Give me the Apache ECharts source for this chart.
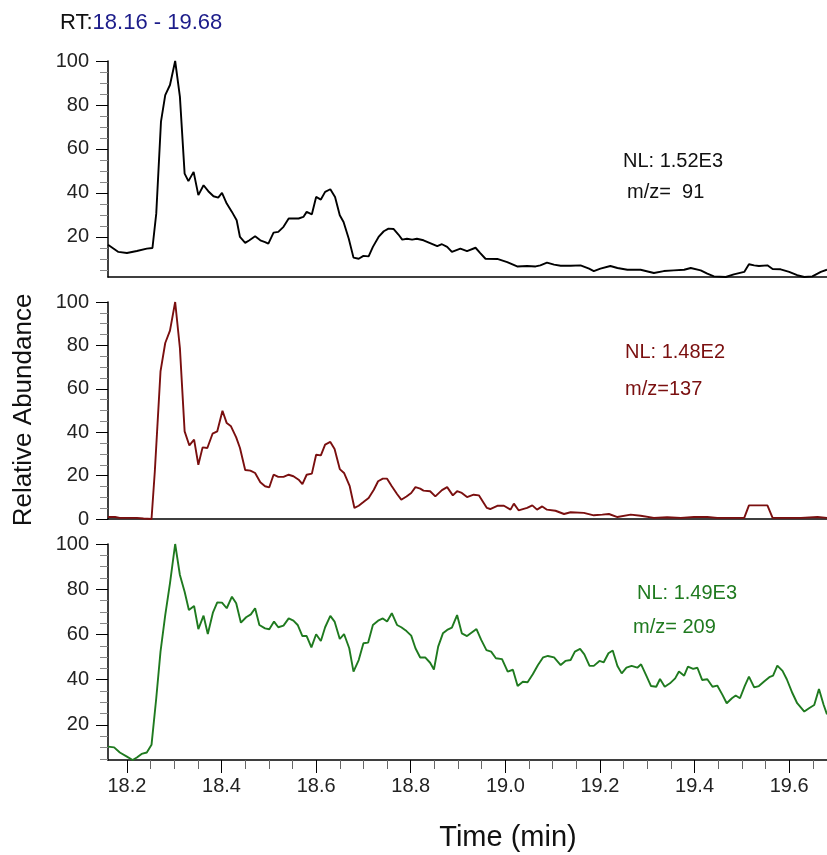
<!DOCTYPE html>
<html>
<head>
<meta charset="utf-8">
<script src="https://cdn.jsdelivr.net/npm/echarts@6/dist/echarts.min.js"></script>
<style>
html,body{margin:0;padding:0;background:#fff;}
#chart{width:827px;height:855px;}
</style>
</head>
<body>
<div id="chart"></div>
<script>
// ---- data (time in min, relative abundance in %) ----
const times91 = [18.160,18.182,18.200,18.221,18.242,18.254,18.262,18.272,18.281,18.291,18.302,18.312,18.322,18.330,18.341,18.351,18.362,18.372,18.383,18.393,18.401,18.411,18.422,18.432,18.439,18.450,18.459,18.471,18.482,18.492,18.499,18.510,18.520,18.531,18.542,18.552,18.563,18.573,18.580,18.591,18.600,18.610,18.619,18.630,18.640,18.650,18.658,18.669,18.679,18.690,18.700,18.711,18.720,18.732,18.743,18.753,18.764,18.774,18.782,18.792,18.803,18.813,18.827,18.856,18.866,18.877,18.887,18.905,18.919,18.937,18.947,18.958,18.983,19.004,19.025,19.046,19.064,19.074,19.088,19.103,19.117,19.138,19.159,19.177,19.187,19.201,19.222,19.237,19.258,19.286,19.314,19.335,19.356,19.378,19.392,19.413,19.427,19.441,19.466,19.483,19.505,19.515,19.526,19.536,19.554,19.565,19.582,19.600,19.617,19.632,19.649,19.667,19.680];
const abund91 = [16.5,13.2,12.7,13.6,14.7,15.0,30.6,72.4,84.5,89.1,100,83.8,48.8,45.4,49.6,39.0,43.5,40.8,38.5,37.9,40.0,35.2,31.4,27.6,20.0,17.3,18.5,20.3,18.5,17.7,17.0,22.0,22.3,24.6,28.4,28.4,28.4,29.1,31.4,30.3,38.2,37.0,40.5,41.7,38.2,29.9,26.8,19.2,10.6,10.1,11.4,11.2,15.5,20.0,22.6,23.8,23.6,21.1,18.8,19.2,18.8,19.2,18.5,15.8,16.7,15.5,13.2,14.7,13.6,15.1,12.7,10.1,10.0,8.6,6.6,6.8,6.6,7.1,8.3,7.4,6.9,6.9,7.1,5.6,4.5,5.6,6.8,5.9,5.1,5.1,3.6,4.5,4.8,5.1,5.9,4.8,3.3,2.1,1.8,3.0,4.1,7.6,7.1,6.8,7.1,5.4,5.3,4.1,2.6,1.8,2.1,4.1,5.1];

const times137 = [18.160,18.175,18.185,18.200,18.221,18.235,18.252,18.259,18.271,18.281,18.291,18.302,18.312,18.322,18.332,18.342,18.351,18.360,18.370,18.381,18.391,18.402,18.411,18.420,18.431,18.439,18.450,18.461,18.471,18.482,18.492,18.501,18.510,18.520,18.531,18.542,18.552,18.563,18.571,18.580,18.591,18.600,18.610,18.619,18.630,18.639,18.650,18.659,18.671,18.681,18.690,18.700,18.711,18.722,18.731,18.741,18.750,18.760,18.771,18.780,18.791,18.801,18.810,18.820,18.827,18.841,18.852,18.866,18.877,18.889,18.898,18.908,18.919,18.933,18.944,18.961,18.968,18.983,18.997,19.011,19.018,19.028,19.046,19.057,19.067,19.078,19.088,19.106,19.124,19.138,19.166,19.187,19.205,19.219,19.237,19.265,19.286,19.314,19.342,19.371,19.399,19.427,19.448,19.483,19.505,19.515,19.529,19.554,19.565,19.596,19.625,19.660,19.680];
const abund137 = [0.9,0.9,0.5,0.5,0.5,0.2,0,22.0,68.0,81.1,86.8,100,78.8,40.4,33.9,36.6,25.0,33.0,32.7,39.3,40.4,49.9,44.2,42.7,37.6,32.7,22.6,22.3,21.2,16.9,15.1,14.6,20.4,19.4,19.4,20.4,19.7,18.1,16.1,20.4,20.9,29.6,29.3,34.3,35.5,32.3,23.0,21.2,15.1,5.1,6.1,7.8,9.7,13.5,17.4,18.6,18.6,15.1,11.5,8.9,10.4,12.0,14.7,14.0,13.1,12.8,10.4,13.3,14.7,10.9,12.8,12.0,10.1,11.2,10.9,5.1,4.6,6.1,6.1,4.3,7.1,4.0,5.1,6.3,4.3,5.8,4.3,3.8,2.3,3.1,2.8,1.7,2.0,2.3,0.9,2.0,1.5,0.5,0.8,0.5,0.9,0.9,0.5,0.5,0.5,6.3,6.3,6.3,0.5,0.5,0.5,0.9,0.5];

const times209 = [18.160,18.173,18.185,18.200,18.212,18.221,18.231,18.242,18.252,18.262,18.271,18.281,18.291,18.302,18.312,18.322,18.331,18.342,18.351,18.362,18.371,18.382,18.391,18.401,18.411,18.422,18.431,18.441,18.452,18.462,18.471,18.480,18.492,18.501,18.511,18.520,18.531,18.542,18.552,18.561,18.571,18.580,18.590,18.600,18.610,18.619,18.630,18.639,18.650,18.659,18.670,18.679,18.690,18.700,18.710,18.720,18.731,18.741,18.750,18.760,18.771,18.780,18.791,18.801,18.810,18.820,18.831,18.841,18.849,18.858,18.868,18.877,18.887,18.898,18.908,18.919,18.939,18.949,18.960,18.970,18.980,18.993,19.005,19.016,19.026,19.037,19.047,19.058,19.069,19.080,19.090,19.103,19.117,19.127,19.138,19.147,19.158,19.167,19.178,19.187,19.199,19.208,19.218,19.227,19.237,19.246,19.256,19.267,19.279,19.287,19.298,19.308,19.319,19.327,19.337,19.348,19.359,19.367,19.378,19.386,19.397,19.406,19.416,19.427,19.438,19.448,19.459,19.468,19.479,19.487,19.496,19.506,19.515,19.526,19.536,19.547,19.558,19.566,19.575,19.586,19.595,19.607,19.617,19.632,19.642,19.653,19.663,19.673,19.680];
const abund209 = [10.4,10.1,7.8,6.0,4.5,5.6,7.2,7.8,11.2,31.8,52.4,68.6,82.6,100,86.3,78.9,70.8,72.6,62.4,68.3,60.2,69.8,74.2,74.1,71.6,76.7,73.8,65.2,67.6,68.9,71.6,64.2,62.7,62.3,65.7,63.2,63.9,67.1,66.1,64.2,59.3,59.3,54.3,60.1,57.1,63.2,68.2,65.7,58.0,60.2,53.9,43.6,48.7,56.1,56.4,64.2,66.1,67.1,65.7,69.4,64.2,63.2,61.5,59.5,53.9,49.8,49.8,47.5,44.5,54.6,60.5,62.0,63.0,68.6,60.5,59.3,62.4,57.6,53.1,52.4,49.5,49.1,43.6,44.4,37.2,39.1,38.9,42.4,46.5,49.9,50.5,49.9,46.5,48.3,48.7,52.4,53.6,51.2,46.1,46.1,48.3,47.7,51.7,52.9,46.1,42.8,45.3,46.1,45.3,46.8,41.8,37.2,36.9,40.3,36.9,38.4,40.6,43.6,41.8,45.8,44.8,45.3,39.9,40.2,36.9,37.4,33.3,29.6,31.8,33.0,31.8,37.2,41.4,36.6,37.2,39.2,41.1,41.8,46.2,43.9,40.2,34.0,29.6,25.9,27.4,28.8,35.9,28.8,24.7];

// ---- axis ticks & labels ----
const timeMin = 18.16, timeMax = 19.68;
const xLabelValues = [18.2,18.4,18.6,18.8,19.0,19.2,19.4,19.6];
const xMinorTicks = [18.2,18.25,18.3,18.35,18.4,18.45,18.5,18.55,18.6,18.65,18.7,18.75,18.8,18.85,18.9,18.95,19.0,19.05,19.1,19.15,19.2,19.25,19.3,19.35,19.4,19.45,19.5,19.55,19.6,19.65];
const yMinTop = 1.8, yMinMid = 0, yMinBot = 4.5;
const yLabelsTop = [20,40,60,80,100];
const yLabelsMid = [0,20,40,60,80,100];
const yLabelsBot = [20,40,60,80,100];
const yMinorTicks = [0,5,10,15,20,25,30,35,40,45,50,55,60,65,70,75,80,85,90,95,100];

const panels = [
  {name:'m/z=91', t:times91, v:abund91, color:'#000000', ymin:yMinTop, labels:yLabelsTop},
  {name:'m/z=137', t:times137, v:abund137, color:'#7a0f0f', ymin:yMinMid, labels:yLabelsMid},
  {name:'m/z=209', t:times209, v:abund209, color:'#1f7a1f', ymin:yMinBot, labels:yLabelsBot}
];

const FONT = 'Liberation Sans, Arial, sans-serif';
const gridTops = [61, 302, 544];
const gridHeights = [216, 217, 216];

const grid = gridTops.map((top,i)=>({left:108, right:0, top:top, height:gridHeights[i], outerBoundsMode:'none', containLabel:false}));

const xAxis = [];
const yAxis = [];
const series = [];
panels.forEach((p,i)=>{
  const isBottom = i === 2;
  xAxis.push({
    type:'value', gridIndex:i, min:timeMin, max:timeMax, position:'bottom',
    axisLine:{show:true, onZero:false, lineStyle:{color:'#000', width:1.5}},
    axisTick: isBottom ? {show:true, customValues:xMinorTicks, length:9, lineStyle:{color:'#666', width:1}} : {show:false},
    axisLabel:{show:false}, splitLine:{show:false}
  });
  if (isBottom) {
    xAxis.push({
      type:'value', gridIndex:i, min:timeMin, max:timeMax, position:'bottom',
      axisLine:{show:false, onZero:false},
      axisTick:{show:true, customValues:xLabelValues, length:13, lineStyle:{color:'#000', width:1}},
      axisLabel:{show:true, customValues:xLabelValues, margin:16, fontSize:20, color:'#222', fontFamily:FONT,
        formatter:(v)=>v.toFixed(1)},
      splitLine:{show:false}
    });
  }
  yAxis.push({
    type:'value', gridIndex:i, min:p.ymin, max:100, position:'left',
    axisLine:{show:true, onZero:false, lineStyle:{color:'#000', width:1.5}},
    axisTick:{show:true, customValues:yMinorTicks.filter(v=>v>=p.ymin), length:8, lineStyle:{color:'#888', width:1}},
    axisLabel:{show:false}, splitLine:{show:false}
  });
  yAxis.push({
    type:'value', gridIndex:i, min:p.ymin, max:100, position:'left',
    axisLine:{show:false, onZero:false},
    axisTick:{show:true, customValues:p.labels, length:12, lineStyle:{color:'#000', width:1}},
    axisLabel:{show:true, customValues:p.labels, margin:19, fontSize:20, color:'#222', fontFamily:FONT},
    splitLine:{show:false}
  });
  series.push({
    type:'line', name:p.name, xAxisIndex:i, yAxisIndex:2*i,
    data:p.t.map((t,k)=>[t,p.v[k]]),
    showSymbol:false, symbol:'none', smooth:false, clip:true,
    lineStyle:{color:p.color, width:1.9}, itemStyle:{color:p.color}
  });
});

const txt = (x,y,text,color,size,extra)=>Object.assign({type:'text', x:x, y:y,
  style:{text:text, fill:color, font:size+'px '+FONT, textVerticalAlign:'middle'}}, extra||{});

const graphic = [
  {type:'text', x:60, y:23, style:{text:'{a|RT:}{b|18.16 - 19.68}', textVerticalAlign:'middle',
    rich:{a:{fill:'#111', fontSize:22, fontFamily:FONT}, b:{fill:'#1c1c8a', fontSize:22, fontFamily:FONT}}}},
  txt(623,161,'NL: 1.52E3','#111',20),
  txt(627,192,'m/z=  91','#111',20),
  txt(625,352,'NL: 1.48E2','#7a0f0f',20),
  txt(625,389,'m/z=137','#7a0f0f',20),
  txt(637,593,'NL: 1.49E3','#1f7a1f',20),
  txt(633,627,'m/z= 209','#1f7a1f',20),
  {type:'text', x:24, y:410, rotation:Math.PI/2,
    style:{text:'Relative Abundance', fill:'#111', font:'26px '+FONT, textAlign:'center', textVerticalAlign:'middle'}},
  {type:'text', x:508, y:838,
    style:{text:'Time (min)', fill:'#111', font:'29px '+FONT, textAlign:'center', textVerticalAlign:'middle'}}
];

const chart = echarts.init(document.getElementById('chart'), null, {renderer:'canvas'});
chart.setOption({
  animation:false,
  backgroundColor:'#ffffff',
  grid:grid, xAxis:xAxis, yAxis:yAxis, series:series, graphic:graphic
});
</script>
</body>
</html>
